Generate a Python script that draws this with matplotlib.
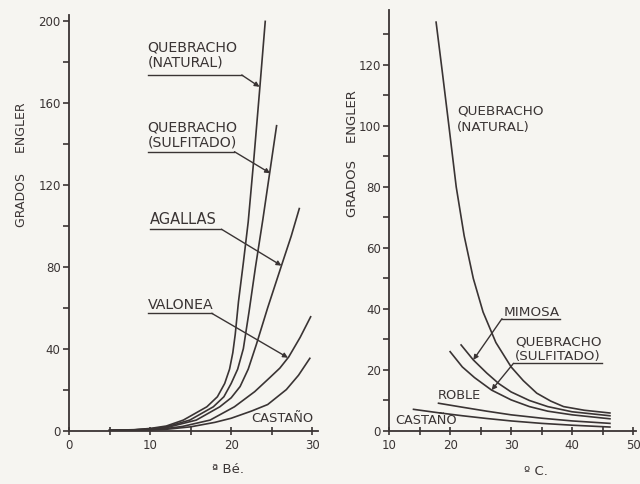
import matplotlib
matplotlib.use('Agg')
import matplotlib.pyplot as plt

plt.rcParams['font.family'] = ['DejaVu Sans']

INK = '#3a3434'
PAPER = '#f6f5f1'

# ---- izquierda: viscosidad frente a grados Baumé ----
be_natural = [5, 8, 10, 12, 14.1, 17, 18.3, 19.2, 19.8, 20.2, 20.5, 20.9, 21.5, 22.1, 22.8, 23.5, 24.2]
en_natural = [0.1, 0.4, 1, 2.2, 5.1, 11.6, 16.5, 23, 30, 38, 47, 63, 82, 102, 133, 166, 200]

be_sulfitado = [5, 8, 10, 12, 14.9, 17.8, 19.1, 20, 20.8, 21.5, 22.2, 23, 23.9, 24.75, 25.6]
en_sulfitado = [0.1, 0.3, 0.8, 1.8, 5.1, 11.6, 16.5, 23, 30, 40, 58, 80, 103, 126, 149]

be_agallas = [5, 8, 10, 12, 15.7, 18.6, 20, 21.1, 22.1, 23.1, 24.5, 26.2, 27.4, 28.4]
en_agallas = [0.1, 0.3, 0.6, 1.4, 5.1, 11.6, 16, 21.5, 30, 42, 60, 80.6, 95, 108.5]

be_valonea = [5, 8, 10, 12, 14, 17.4, 20.4, 22.9, 24.8, 26, 27.1, 28.5, 29.8]
en_valonea = [0, 0.2, 0.4, 1, 2, 5.1, 11.6, 19, 26, 30.5, 36, 45.5, 55.6]

be_castano = [5, 8, 10, 12, 15, 18, 20, 22.5, 24.5, 26.8, 28.3, 29.7]
en_castano = [0, 0.1, 0.2, 0.6, 1.8, 4, 6, 9.5, 12.7, 20, 27, 35.3]

# ---- derecha: viscosidad frente a temperatura ----
tc_natural = [17.7, 18.7, 19.8, 21.0, 22.3, 23.8, 25.4, 27.5, 30, 32, 34.2, 36.5, 38.6, 42, 46.2]
en2_natural = [134, 118, 100, 80, 64, 50, 39, 29, 21, 16.5, 12.4, 9.8, 8, 6.8, 5.9]

tc_mimosa = [21.8, 23.8, 26, 28, 30, 33, 36, 40, 46.2]
en2_mimosa = [28.2, 23.3, 19, 15.5, 12.8, 10, 8, 6.3, 5]

tc_sulfitado = [20, 22, 24, 26.8, 30, 33, 36, 40, 46.2]
en2_sulfitado = [26, 21, 17.5, 13.4, 10.2, 8, 6.5, 5.3, 4]

tc_roble = [18.1, 22, 26, 30, 35, 40, 46.2]
en2_roble = [9.1, 7.8, 6.5, 5.3, 4.2, 3.3, 2.5]

tc_castano = [14, 18, 22, 26, 30, 35, 40, 46.2]
en2_castano = [7.1, 6, 5, 4.1, 3.3, 2.5, 1.9, 1.3]


def style_axes(ax, xmajor, xall, ymajor, yall):
    ax.set_facecolor(PAPER)
    for s in ('top', 'right'):
        ax.spines[s].set_visible(False)
    for s in ('left', 'bottom'):
        ax.spines[s].set_color(INK)
        ax.spines[s].set_linewidth(1.3)
    ax.set_xticks(xall)
    ax.set_xticklabels([str(v) if v in xmajor else '' for v in xall])
    ax.set_yticks(yall)
    ax.set_yticklabels([str(v) if v in ymajor else '' for v in yall])
    ax.tick_params(axis='x', direction='inout', length=6, width=1.2,
                   colors=INK, labelsize=8.5, pad=3)
    ax.tick_params(axis='y', direction='out', length=4, width=1.2,
                   colors=INK, labelsize=8.5, pad=2)


def leader(ax, x0, x1, y, tip):
    # subrayado de la etiqueta + línea con flecha hasta la curva
    ax.plot([x0, x1], [y, y], color=INK, lw=1.0)
    ax.annotate('', xy=tip, xytext=(x1, y),
                arrowprops=dict(arrowstyle='-|>', color=INK, lw=1.0,
                                mutation_scale=7, shrinkA=0, shrinkB=0))


fig = plt.figure(figsize=(6.4, 4.84), dpi=100)
fig.patch.set_facecolor(PAPER)

# panel izquierdo
ax1 = fig.add_axes([0.1078, 0.1105, 0.389, 0.858])
for xs, ys in [(be_natural, en_natural), (be_sulfitado, en_sulfitado),
               (be_agallas, en_agallas), (be_valonea, en_valonea),
               (be_castano, en_castano)]:
    ax1.plot(xs, ys, color=INK, lw=1.2)
ax1.set_xlim(0, 30.7)
ax1.set_ylim(0, 203)
style_axes(ax1, [0, 10, 20, 30], [0, 5, 10, 15, 20, 25, 30],
           [0, 40, 80, 120, 160, 200], list(range(0, 201, 20)))

fs = 10.2
ax1.text(9.7, 187, 'QUEBRACHO', fontsize=fs, color=INK, va='center')
ax1.text(9.7, 179.7, '(NATURAL)', fontsize=fs, color=INK, va='center')
leader(ax1, 9.7, 21.3, 173.8, (23.5, 168))
ax1.text(9.7, 148, 'QUEBRACHO', fontsize=fs, color=INK, va='center')
ax1.text(9.7, 140.6, '(SULFITADO)', fontsize=fs, color=INK, va='center')
leader(ax1, 9.7, 20.4, 136.3, (24.8, 125.8))
ax1.text(10.0, 103, 'AGALLAS', fontsize=10.5, color=INK, va='center')
leader(ax1, 10.0, 18.8, 98.4, (26.2, 80.6))
ax1.text(9.7, 61.4, 'VALONEA', fontsize=fs, color=INK, va='center')
leader(ax1, 9.7, 17.6, 57.3, (27.0, 35.6))
ax1.text(22.5, 6.1, 'CASTAÑO', fontsize=9.4, color=INK, va='center')

fig.text(0.034, 0.66, 'GRADOS     ENGLER', rotation=90, fontsize=9,
         color=INK, ha='center', va='center')
ax1.text(19.6, -0.095, 'ª Bé.', transform=ax1.get_xaxis_transform(),
         fontsize=9.5, color=INK, ha='center', va='center')

# panel derecho
ax2 = fig.add_axes([0.608, 0.1095, 0.386, 0.87])
for xs, ys in [(tc_natural, en2_natural), (tc_mimosa, en2_mimosa),
               (tc_sulfitado, en2_sulfitado), (tc_roble, en2_roble),
               (tc_castano, en2_castano)]:
    ax2.plot(xs, ys, color=INK, lw=1.2)
ax2.set_xlim(10, 50.5)
ax2.set_ylim(0, 138)
style_axes(ax2, [10, 20, 30, 40, 50], list(range(10, 51, 5)),
           [0, 20, 40, 60, 80, 100, 120], list(range(0, 131, 10)))

fr = 9.7
ax2.text(21.1, 105, 'QUEBRACHO', fontsize=fr, color=INK, va='center')
ax2.text(21.1, 99.5, '(NATURAL)', fontsize=fr, color=INK, va='center')
ax2.text(28.7, 38.9, 'MIMOSA', fontsize=fr, color=INK, va='center')
leader(ax2, 38.0, 28.5, 36.8, (23.8, 23.3))
ax2.text(30.6, 29.3, 'QUEBRACHO', fontsize=fr, color=INK, va='center')
ax2.text(30.6, 24.4, '(SULFITADO)', fontsize=fr, color=INK, va='center')
leader(ax2, 44.9, 30.4, 22.2, (26.8, 13.4))
ax2.text(17.9, 11.7, 'ROBLE', fontsize=9.3, color=INK, va='center')
ax2.text(11.0, 3.4, 'CASTAÑO', fontsize=9.3, color=INK, va='center')

fig.text(0.55, 0.683, 'GRADOS    ENGLER', rotation=90, fontsize=9.5,
         color=INK, ha='center', va='center')
ax2.text(34.0, -0.095, 'º C.', transform=ax2.get_xaxis_transform(),
         fontsize=9.5, color=INK, ha='center', va='center')

fig.savefig('out.png', dpi=100, facecolor=PAPER)
